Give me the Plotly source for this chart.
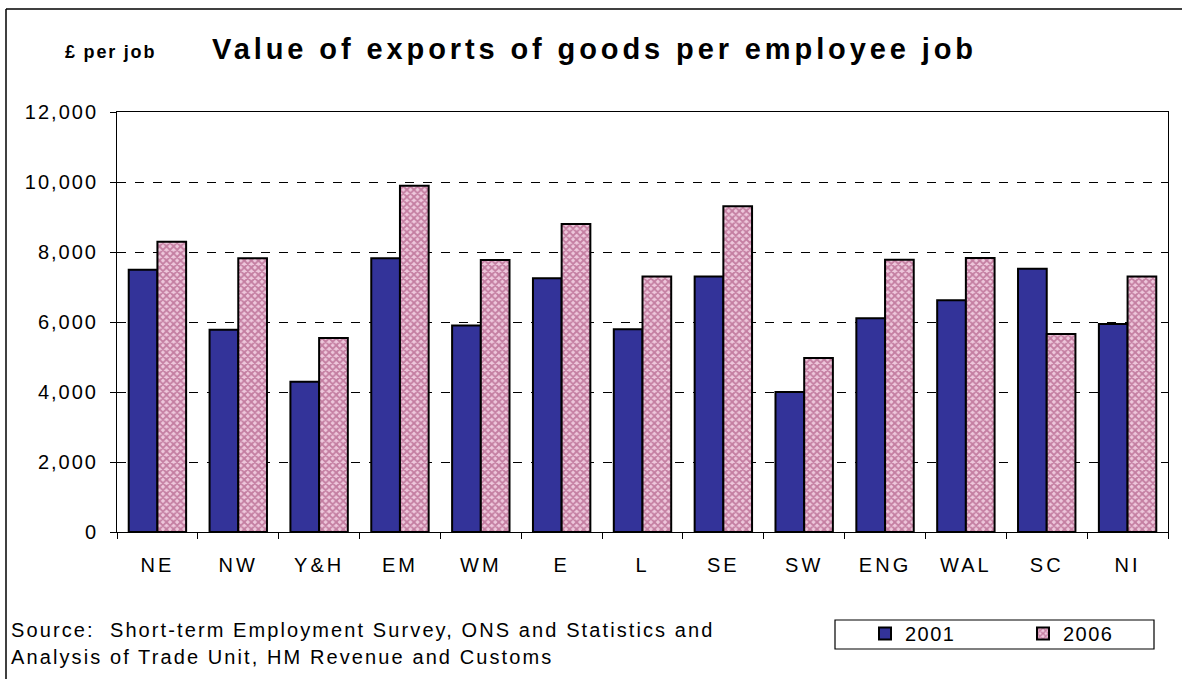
import plotly.graph_objects as go

regions = ["NE", "NW", "Y&H", "EM", "WM", "E", "L", "SE", "SW", "ENG", "WAL", "SC", "NI"]
values_2001 = [7490, 5780, 4290, 7820, 5900, 7250, 5790, 7300, 4000, 6110, 6620, 7520, 5940]
values_2006 = [8290, 7820, 5540, 9890, 7770, 8800, 7300, 9310, 4970, 7780, 7830, 5660, 7300]
y_ticks = [0, 2000, 4000, 6000, 8000, 10000, 12000]
y_tick_labels = ["0", "2,000", "4,000", "6,000", "8,000", "10,000", "12,000"]

W, H = 1182, 679
L, R, T, B = 117, 14, 112, 147
pw, ph = W - L - R, H - T - B

def px_x(p):
    return (p - L) / pw

def px_y(p):
    return (H - B - p) / ph

def sp(text, ls=2):
    return f"<span style='letter-spacing:{ls}px'>{text}</span>"

font_family = "Liberation Sans, Arial, sans-serif"

fig = go.Figure()
fig.add_trace(go.Bar(
    x=regions, y=values_2001, name=sp("2001", 1.5), legend="legend",
    marker=dict(color="#333399", line=dict(color="black", width=2)),
))
fig.add_trace(go.Bar(
    x=regions, y=values_2006, name=sp("2006", 1.5), legend="legend2",
    marker=dict(color="#E0A8C8", line=dict(color="black", width=2),
                pattern=dict(shape="x", fgcolor="#993366", bgcolor="#EEC8DC",
                             size=5, solidity=0.6)),
))

legend_common = dict(orientation="h", xanchor="left", yanchor="top",
                     borderwidth=0, bgcolor="rgba(0,0,0,0)", font=dict(size=20),
                     itemclick=False, itemdoubleclick=False)

fig.update_layout(
    width=W, height=H,
    margin=dict(l=L, r=R, t=T, b=B, pad=0),
    paper_bgcolor="white", plot_bgcolor="white",
    barmode="group", bargap=0.29, bargroupgap=0,
    font=dict(family=font_family, size=20, color="black"),
    title=dict(text=sp("<b>Value of exports of goods per employee job</b>", 3.9),
               x=0.503, xref="container", xanchor="center",
               y=1 - 49 / H, yref="container", yanchor="middle",
               font=dict(size=29, family=font_family, color="black")),
    showlegend=True,
    legend=dict(x=px_x(865), y=px_y(614), **legend_common),
    legend2=dict(x=px_x(1023), y=px_y(614), **legend_common),
    xaxis=dict(showline=True, linecolor="black", linewidth=1, mirror=True,
               ticks="outside", ticklen=6, tickcolor="black", tickson="boundaries",
               tickfont=dict(size=20), showgrid=False, ticklabelstandoff=15,
               tickvals=regions, ticktext=[sp(r, 3) for r in regions]),
    yaxis=dict(range=[0, 12000], tickvals=y_ticks, ticktext=[sp(t, 2) for t in y_tick_labels],
               showline=True, linecolor="black", linewidth=1, mirror=True,
               ticks="outside", ticklen=6, tickcolor="black", ticklabelstandoff=8,
               showgrid=True, gridcolor="black", gridwidth=1, griddash="dash",
               tickfont=dict(size=20), zeroline=False),
)

fig.add_annotation(text=sp("<b>£ per job</b>", 1.8), xref="paper", yref="paper",
                   x=px_x(110), y=px_y(52), xanchor="center", yanchor="middle",
                   showarrow=False, font=dict(size=18, family=font_family))

source_lines = ["Source:  Short-term Employment Survey, ONS and Statistics and",
                "Analysis of Trade Unit, HM Revenue and Customs"]
for line, yc in zip(source_lines, [630, 657]):
    fig.add_annotation(text=sp(line, 2.1), xref="paper", yref="paper",
                       x=px_x(9), y=px_y(yc), xanchor="left", yanchor="middle",
                       align="left", showarrow=False,
                       font=dict(size=20, family=font_family))

# legend box
fig.add_shape(type="rect", xref="paper", yref="paper",
              x0=px_x(835), x1=px_x(1154), y0=px_y(620), y1=px_y(649),
              line=dict(color="black", width=1.2), fillcolor="rgba(0,0,0,0)")
# outer frame
fig.add_shape(type="line", xref="paper", yref="paper",
              x0=px_x(6), x1=px_x(1200), y0=px_y(9), y1=px_y(9),
              line=dict(color="black", width=1.5))
fig.add_shape(type="line", xref="paper", yref="paper",
              x0=px_x(6), x1=px_x(6), y0=px_y(9), y1=px_y(700),
              line=dict(color="black", width=1.5))

fig.write_html("out.html", config={"displayModeBar": False},
               post_script="document.body.style.margin='0';")
